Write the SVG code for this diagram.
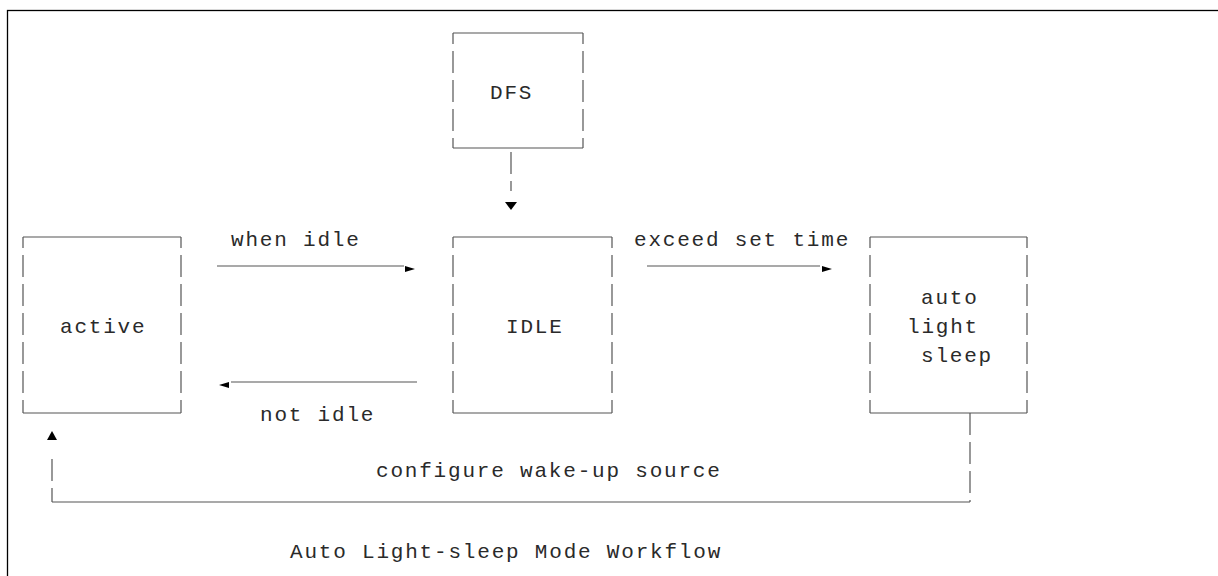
<svg xmlns="http://www.w3.org/2000/svg" width="1218" height="576" viewBox="0 0 1218 576">
<style>
.t{font-family:"Liberation Mono","DejaVu Sans Mono",monospace;font-size:21px;letter-spacing:1.8px;fill:#2a2a2a}
.h{stroke:#555;stroke-width:1.2;fill:none}
.v{stroke:#555;stroke-width:1.2;fill:none;stroke-dasharray:22 7;stroke-dashoffset:11}
.ah{fill:#000}
</style>
<rect x="7.5" y="10.5" width="1400" height="700" fill="#fff" stroke="#000" stroke-width="1.3"/>
<g id="dfs">
<line class="h" x1="453" y1="33" x2="583" y2="33"/>
<line class="h" x1="453" y1="148" x2="583" y2="148"/>
<line class="v" x1="453" y1="33" x2="453" y2="148"/>
<line class="v" x1="583" y1="33" x2="583" y2="148"/>
<text class="t" x="490" y="99">DFS</text>
</g>
<g id="active">
<line class="h" x1="23" y1="237" x2="181" y2="237"/>
<line class="h" x1="23" y1="413" x2="181" y2="413"/>
<line class="v" x1="23" y1="237" x2="23" y2="413"/>
<line class="v" x1="181" y1="237" x2="181" y2="413"/>
<text class="t" x="60" y="333">active</text>
</g>
<g id="idle">
<line class="h" x1="453" y1="237" x2="612" y2="237"/>
<line class="h" x1="453" y1="413" x2="612" y2="413"/>
<line class="v" x1="453" y1="237" x2="453" y2="413"/>
<line class="v" x1="612" y1="237" x2="612" y2="413"/>
<text class="t" x="506" y="333">IDLE</text>
</g>
<g id="sleep">
<line class="h" x1="870" y1="237" x2="1027" y2="237"/>
<line class="h" x1="870" y1="413" x2="1027" y2="413"/>
<line class="v" x1="870" y1="237" x2="870" y2="413"/>
<line class="v" x1="1027" y1="237" x2="1027" y2="413"/>
<text class="t" x="921" y="304">auto</text>
<text class="t" x="907" y="333">light</text>
<text class="t" x="921" y="362">sleep</text>
</g>
<g id="connectors">
<line class="v" x1="511" y1="148" x2="511" y2="191" style="stroke-dashoffset:-4"/>
<polygon class="ah" points="505,202 517,202 511,210"/>
<line class="h" x1="217" y1="266" x2="404" y2="266"/>
<polygon class="ah" points="405,266 405,272 415,269"/>
<text class="t" x="231" y="246">when idle</text>
<line class="h" x1="647" y1="266" x2="820" y2="266"/>
<polygon class="ah" points="822,266 822,272 832,269"/>
<text class="t" x="634" y="246">exceed set time</text>
<line class="h" x1="231" y1="382" x2="417" y2="382"/>
<polygon class="ah" points="229,382 229,388 219,385"/>
<text class="t" x="260" y="421">not idle</text>
<line class="v" x1="970" y1="413" x2="970" y2="502" style="stroke-dashoffset:0"/>
<line class="h" x1="52" y1="502" x2="970" y2="502"/>
<line class="v" x1="52" y1="459" x2="52" y2="502" style="stroke-dashoffset:0"/>
<polygon class="ah" points="47,440 57,440 52,431"/>
<text class="t" x="376" y="477">configure wake-up source</text>
</g>
<text class="t" x="290" y="558">Auto Light-sleep Mode Workflow</text>
</svg>
